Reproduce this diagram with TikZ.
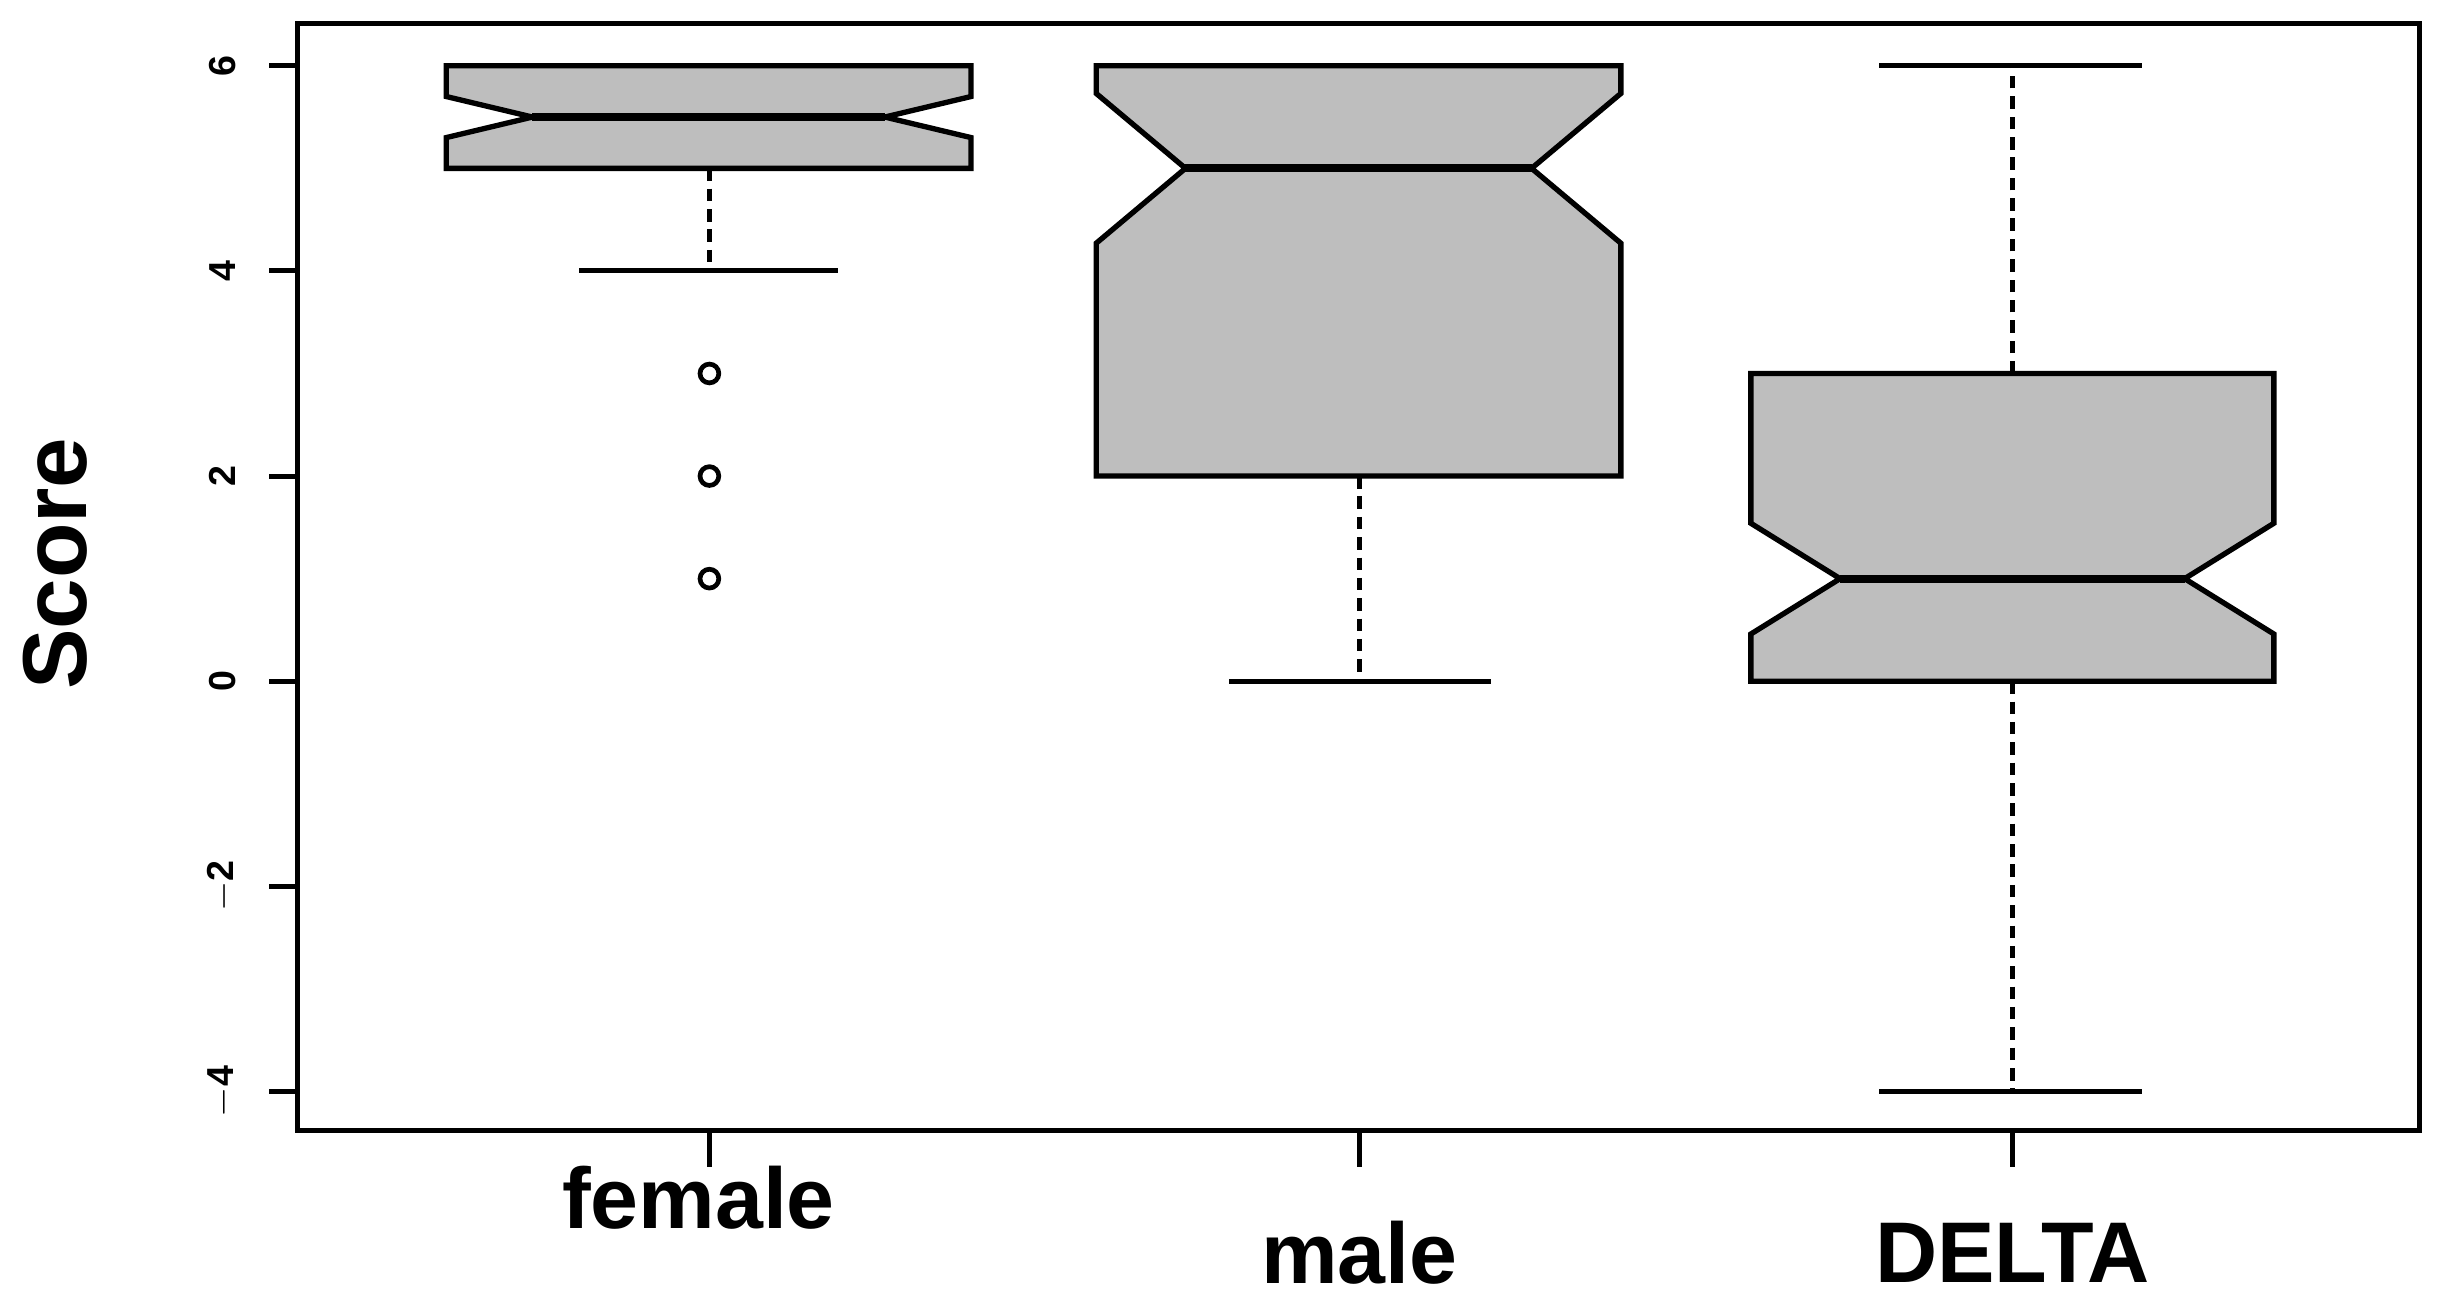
\documentclass[tikz,border=0pt]{standalone}
\usepackage{fontspec}
\setmainfont{Liberation Sans}
\begin{document}
\begin{tikzpicture}[x=1pt,y=1pt,
  bx/.style={draw=black,fill=boxgray,line width=3.4pt,line join=miter},
  med/.style={line width=5pt},
  wh/.style={line width=3.2pt,dash pattern=on 8pt off 5pt},
  cp/.style={line width=3.2pt},
  tk/.style={font=\bfseries\fontsize{24}{26}\selectfont,rotate=90},
  cat/.style={font=\bfseries\fontsize{55}{58}\selectfont}]
\definecolor{boxgray}{gray}{0.745}
\useasboundingbox (0,0) rectangle (1560,831);
\def\Y#1{396+65.5*(#1)}
\draw[line width=3.6pt] (190,831-15) rectangle (1545,831-722);
\foreach \v in {-4,-2,0,2,4,6}{
  \draw[line width=3.2pt] (190,{\Y{\v}}) -- (172,{\Y{\v}});
  \node[tk] at (142,{\Y{\v}}) {\ifnum\v<0 $-$\number\numexpr-\v\relax\else\v\fi};
}
\node[font=\bfseries\fontsize{58}{62}\selectfont,rotate=90] at (35,831-360) {Score};
\foreach \x in {453,868,1285}{\draw[line width=3.2pt] (\x,831-722) -- (\x,831-745);}
\node[cat] at (446,831-765) {female};
\node[cat] at (868,831-800) {male};
\node[cat] at (1285,831-800) {DELTA};
% female
\draw[wh] (453,{\Y{5}}) -- (453,{\Y{4}});
\draw[cp] (370,{\Y{4}}) -- (535,{\Y{4}});
\draw[bx] (285,{\Y{5}}) -- (285,{\Y{5.3}}) -- (340,{\Y{5.5}}) -- (285,{\Y{5.7}}) -- (285,{\Y{6}})
  -- (620,{\Y{6}}) -- (620,{\Y{5.7}}) -- (565,{\Y{5.5}}) -- (620,{\Y{5.3}}) -- (620,{\Y{5}}) -- cycle;
\draw[med] (340,{\Y{5.5}}) -- (565,{\Y{5.5}});
\foreach \v in {1,2,3}{\draw[line width=3pt] (453,{\Y{\v}}) circle (6);}
% male
\draw[wh] (868,{\Y{2}}) -- (868,{\Y{0}});
\draw[cp] (785,{\Y{0}}) -- (952,{\Y{0}});
\draw[bx] (700,{\Y{2}}) -- (700,{\Y{4.27}}) -- (757,{\Y{5}}) -- (700,{\Y{5.73}}) -- (700,{\Y{6}})
  -- (1035,{\Y{6}}) -- (1035,{\Y{5.73}}) -- (978,{\Y{5}}) -- (1035,{\Y{4.27}}) -- (1035,{\Y{2}}) -- cycle;
\draw[med] (757,{\Y{5}}) -- (978,{\Y{5}});
% DELTA
\draw[wh] (1285,{\Y{3}}) -- (1285,{\Y{6}});
\draw[wh] (1285,{\Y{0}}) -- (1285,{\Y{-4}});
\draw[cp] (1200,{\Y{6}}) -- (1368,{\Y{6}});
\draw[cp] (1200,{\Y{-4}}) -- (1368,{\Y{-4}});
\draw[bx] (1118,{\Y{0}}) -- (1118,{\Y{0.46}}) -- (1175,{\Y{1}}) -- (1118,{\Y{1.54}}) -- (1118,{\Y{3}})
  -- (1452,{\Y{3}}) -- (1452,{\Y{1.54}}) -- (1395,{\Y{1}}) -- (1452,{\Y{0.46}}) -- (1452,{\Y{0}}) -- cycle;
\draw[med] (1175,{\Y{1}}) -- (1395,{\Y{1}});
\end{tikzpicture}
\end{document}
